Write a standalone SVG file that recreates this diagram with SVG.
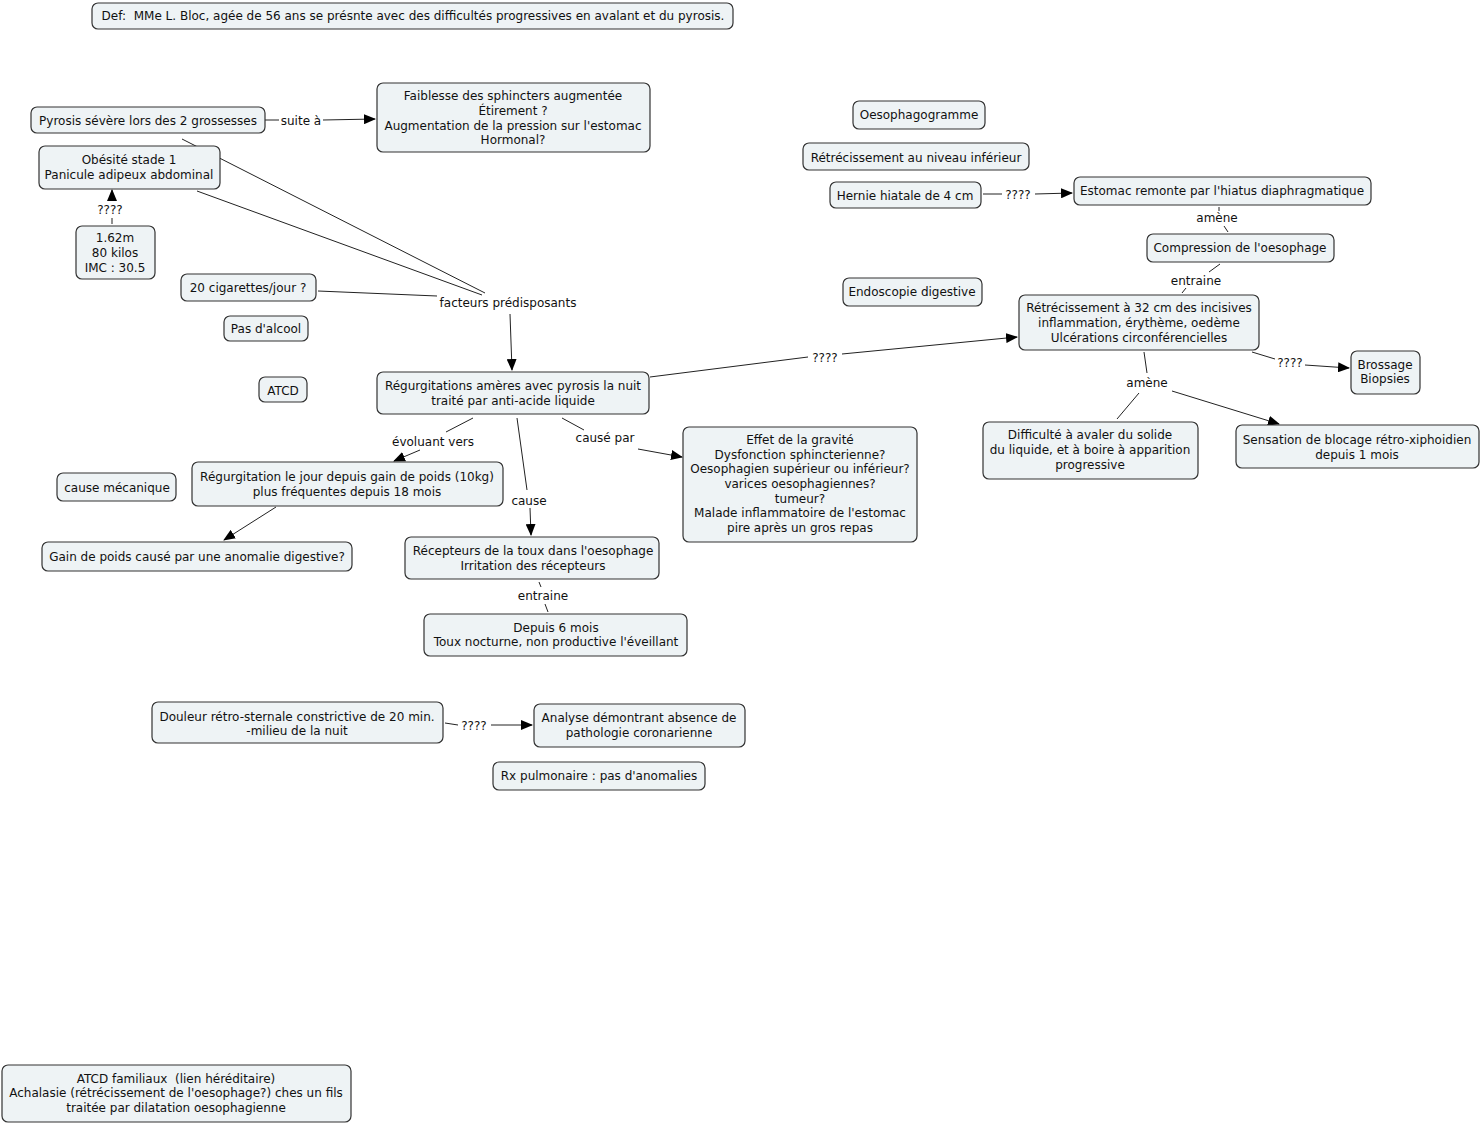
<svg xmlns="http://www.w3.org/2000/svg" width="1480" height="1124" viewBox="0 0 1480 1124">
<defs>
<marker id="ah" markerUnits="userSpaceOnUse" markerWidth="12" markerHeight="10" refX="11" refY="5" orient="auto"><path d="M0,0 L12,5 L0,10 z" fill="#000"/></marker>
<style>
.n rect{fill:#eef3f5;stroke:#333;stroke-width:1.2}
text{font-family:"DejaVu Sans",Verdana,sans-serif;font-size:12px;fill:#111;text-anchor:middle;dominant-baseline:central;transform:translateY(1px)}
.c line,.c path{stroke:#222;stroke-width:1;fill:none}
.a{marker-end:url(#ah)}
</style>
</defs>
<rect width="1480" height="1124" fill="#fff"/>
<g class="c" id="connectors">
<line x1="182" y1="139" x2="485" y2="293"/>
<line x1="197" y1="191" x2="482" y2="295"/>
<line x1="318" y1="291" x2="437" y2="296"/>
<line class="a" x1="510" y1="314" x2="512" y2="370"/>
<line x1="265" y1="120" x2="279" y2="120"/>
<line class="a" x1="323" y1="120" x2="375" y2="119"/>
<line x1="112" y1="224" x2="112" y2="218"/>
<line class="a" x1="112" y1="201" x2="112" y2="190"/>
<line x1="473" y1="418" x2="446" y2="432"/>
<line class="a" x1="420" y1="450" x2="394" y2="461"/>
<line x1="517" y1="418" x2="527" y2="490"/>
<line class="a" x1="530" y1="508" x2="531" y2="535"/>
<line x1="562" y1="418" x2="584" y2="430"/>
<line class="a" x1="638" y1="449" x2="682" y2="457"/>
<line x1="650" y1="377" x2="808" y2="357"/>
<line class="a" x1="842" y1="354" x2="1017" y2="337"/>
<line class="a" x1="276" y1="507" x2="224" y2="540"/>
<line x1="539" y1="582" x2="541" y2="587"/>
<line x1="545" y1="604" x2="548" y2="612"/>
<line x1="445" y1="723" x2="458" y2="725"/>
<line class="a" x1="491" y1="725" x2="532" y2="725"/>
<line x1="983" y1="194" x2="1002" y2="194"/>
<line class="a" x1="1035" y1="194" x2="1072" y2="193"/>
<line x1="1219" y1="207" x2="1219" y2="211"/>
<line x1="1224" y1="226" x2="1228" y2="232"/>
<line x1="1220" y1="264" x2="1209" y2="272"/>
<line x1="1186" y1="288" x2="1182" y2="293"/>
<line x1="1252" y1="352" x2="1275" y2="359"/>
<line class="a" x1="1305" y1="365" x2="1349" y2="368"/>
<line x1="1144" y1="352" x2="1147" y2="373"/>
<line x1="1139" y1="393" x2="1117" y2="419"/>
<line class="a" x1="1172" y1="391" x2="1279" y2="424"/>
<text x="301" y="120">suite à</text>
<text x="110" y="209">????</text>
<text x="508" y="302">facteurs prédisposants</text>
<text x="433" y="441">évoluant vers</text>
<text x="529" y="500">cause</text>
<text x="605" y="437">causé par</text>
<text x="825" y="357">????</text>
<text x="543" y="595">entraine</text>
<text x="474" y="725">????</text>
<text x="1018" y="194">????</text>
<text x="1217" y="217">amène</text>
<text x="1196" y="280">entraine</text>
<text x="1290" y="362">????</text>
<text x="1147" y="382">amène</text>
</g>
<g class="n" id="n-def"><rect x="92" y="3" width="641" height="26" rx="6"/><text x="413" y="15" xml:space="preserve">Def:  MMe L. Bloc, agée de 56 ans se présnte avec des difficultés progressives en avalant et du pyrosis.</text></g>
<g class="n" id="n-pyrosis"><rect x="31" y="107" width="234" height="26" rx="6"/><text x="148" y="120">Pyrosis sévère lors des 2 grossesses</text></g>
<g class="n" id="n-faiblesse"><rect x="377" y="83" width="273" height="69" rx="6"/><text x="513" y="95">Faiblesse des sphincters augmentée</text><text x="513" y="110">Étirement ?</text><text x="513" y="125">Augmentation de la pression sur l'estomac</text><text x="513" y="139">Hormonal?</text></g>
<g class="n" id="n-obesite"><rect x="39" y="146" width="181" height="43" rx="6"/><text x="129" y="159">Obésité stade 1</text><text x="129" y="174">Panicule adipeux abdominal</text></g>
<g class="n" id="n-imc"><rect x="76" y="226" width="79" height="53" rx="6"/><text x="115" y="237">1.62m</text><text x="115" y="252">80 kilos</text><text x="115" y="267">IMC : 30.5</text></g>
<g class="n" id="n-cig"><rect x="181" y="274" width="135" height="27" rx="6"/><text x="248" y="287">20 cigarettes/jour ?</text></g>
<g class="n" id="n-alcool"><rect x="224" y="316" width="84" height="25" rx="6"/><text x="266" y="328">Pas d'alcool</text></g>
<g class="n" id="n-atcd"><rect x="259" y="377" width="48" height="25" rx="6"/><text x="283" y="390">ATCD</text></g>
<g class="n" id="n-regurg"><rect x="377" y="372" width="272" height="42" rx="6"/><text x="513" y="385">Régurgitations amères avec pyrosis la nuit</text><text x="513" y="400">traité par anti-acide liquide</text></g>
<g class="n" id="n-regjour"><rect x="192" y="462" width="311" height="44" rx="6"/><text x="347" y="476">Régurgitation le jour depuis gain de poids (10kg)</text><text x="347" y="491">plus fréquentes depuis 18 mois</text></g>
<g class="n" id="n-mecanique"><rect x="57" y="473" width="119" height="28" rx="6"/><text x="117" y="487">cause mécanique</text></g>
<g class="n" id="n-gain"><rect x="42" y="542" width="310" height="29" rx="6"/><text x="197" y="556">Gain de poids causé par une anomalie digestive?</text></g>
<g class="n" id="n-recepteurs"><rect x="405" y="537" width="254" height="42" rx="6"/><text x="533" y="550">Récepteurs de la toux dans l'oesophage</text><text x="533" y="565">Irritation des récepteurs</text></g>
<g class="n" id="n-toux"><rect x="424" y="614" width="263" height="42" rx="6"/><text x="556" y="627">Depuis 6 mois</text><text x="556" y="641">Toux nocturne, non productive l'éveillant</text></g>
<g class="n" id="n-effet"><rect x="683" y="427" width="234" height="115" rx="6"/><text x="800" y="439">Effet de la gravité</text><text x="800" y="454">Dysfonction sphincterienne?</text><text x="800" y="468">Oesophagien supérieur ou inférieur?</text><text x="800" y="483">varices oesophagiennes?</text><text x="800" y="498">tumeur?</text><text x="800" y="512">Malade inflammatoire de l'estomac</text><text x="800" y="527">pire après un gros repas</text></g>
<g class="n" id="n-douleur"><rect x="152" y="702" width="291" height="41" rx="6"/><text x="297" y="716">Douleur rétro-sternale constrictive de 20 min.</text><text x="297" y="730">-milieu de la nuit</text></g>
<g class="n" id="n-analyse"><rect x="534" y="704" width="211" height="43" rx="6"/><text x="639" y="717">Analyse démontrant absence de</text><text x="639" y="732">pathologie coronarienne</text></g>
<g class="n" id="n-rx"><rect x="493" y="762" width="212" height="28" rx="6"/><text x="599" y="775">Rx pulmonaire : pas d'anomalies</text></g>
<g class="n" id="n-atcdfam"><rect x="2" y="1065" width="349" height="57" rx="6"/><text x="176" y="1078" xml:space="preserve">ATCD familiaux  (lien héréditaire)</text><text x="176" y="1092">Achalasie (rétrécissement de l'oesophage?) ches un fils</text><text x="176" y="1107">traitée par dilatation oesophagienne</text></g>
<g class="n" id="n-oesogramme"><rect x="853" y="101" width="132" height="28" rx="6"/><text x="919" y="114">Oesophagogramme</text></g>
<g class="n" id="n-retinf"><rect x="803" y="143" width="226" height="27" rx="6"/><text x="916" y="157">Rétrécissement au niveau inférieur</text></g>
<g class="n" id="n-hernie"><rect x="830" y="182" width="151" height="26" rx="6"/><text x="905" y="195">Hernie hiatale de 4 cm</text></g>
<g class="n" id="n-estomac"><rect x="1074" y="177" width="297" height="28" rx="6"/><text x="1222" y="190">Estomac remonte par l'hiatus diaphragmatique</text></g>
<g class="n" id="n-compression"><rect x="1147" y="234" width="187" height="28" rx="6"/><text x="1240" y="247">Compression de l'oesophage</text></g>
<g class="n" id="n-endoscopie"><rect x="843" y="278" width="139" height="28" rx="6"/><text x="912" y="291">Endoscopie digestive</text></g>
<g class="n" id="n-ret32"><rect x="1019" y="295" width="240" height="55" rx="6"/><text x="1139" y="307">Rétrécissement à 32 cm des incisives</text><text x="1139" y="322">inflammation, érythème, oedème</text><text x="1139" y="337">Ulcérations circonférencielles</text></g>
<g class="n" id="n-brossage"><rect x="1351" y="351" width="69" height="43" rx="6"/><text x="1385" y="364">Brossage</text><text x="1385" y="378">Biopsies</text></g>
<g class="n" id="n-difficulte"><rect x="983" y="422" width="215" height="57" rx="6"/><text x="1090" y="434">Difficulté à avaler du solide</text><text x="1090" y="449">du liquide, et à boire à apparition</text><text x="1090" y="464">progressive</text></g>
<g class="n" id="n-sensation"><rect x="1236" y="425" width="243" height="43" rx="6"/><text x="1357" y="439">Sensation de blocage rétro-xiphoidien</text><text x="1357" y="454">depuis 1 mois</text></g>
</svg>
